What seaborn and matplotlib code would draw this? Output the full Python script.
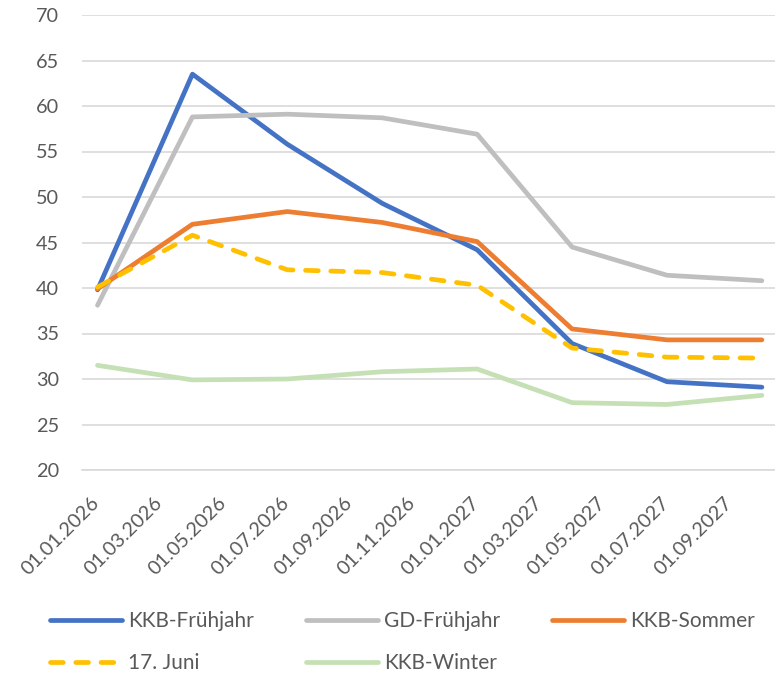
import pandas as pd
import seaborn as sns
import matplotlib.pyplot as plt
from matplotlib.ticker import FixedLocator, MultipleLocator
from matplotlib.transforms import ScaledTranslation

# Quarterly values
dates = ["01.01.2026", "01.04.2026", "01.07.2026", "01.10.2026",
         "01.01.2027", "01.04.2027", "01.07.2027", "01.10.2027"]

kkb_fruehjahr = [39.8, 63.5, 55.8, 49.3, 44.2, 33.9, 29.7, 29.1]
gd_fruehjahr = [38.1, 58.8, 59.1, 58.7, 56.9, 44.5, 41.4, 40.8]
kkb_sommer = [39.9, 47.0, 48.4, 47.2, 45.1, 35.5, 34.3, 34.3]
juni_17 = [40.1, 45.8, 42.0, 41.7, 40.3, 33.4, 32.4, 32.3]
kkb_winter = [31.5, 29.9, 30.0, 30.8, 31.1, 27.4, 27.2, 28.2]

series_names = ["KKB-Frühjahr", "GD-Frühjahr", "KKB-Sommer", "17. Juni", "KKB-Winter"]
series_values = [kkb_fruehjahr, gd_fruehjahr, kkb_sommer, juni_17, kkb_winter]
colors = ["#4472C4", "#BFBFBF", "#ED7D31", "#FFC000", "#C5E0B4"]

tick_labels = ["01.01.2026", "01.03.2026", "01.05.2026", "01.07.2026",
               "01.09.2026", "01.11.2026", "01.01.2027", "01.03.2027",
               "01.05.2027", "01.07.2027", "01.09.2027"]


def month_pos(s):
    """Date string -> month slot centre (Excel style 'between tick marks')."""
    d, m, y = (int(p) for p in s.split("."))
    return (y - 2026) * 12 + (m - 1) + 0.5


sns.set_theme(style="white")
plt.rcParams["font.family"] = ["Lato", "DejaVu Sans"]
text_color = "#595959"
grid_color = "#D9D9D9"

# Long-format table for seaborn
rows = []
for name, vals in zip(series_names, series_values):
    for d, v in zip(dates, vals):
        rows.append({"pos": month_pos(d), "value": v, "series": name})
df = pd.DataFrame(rows)

fig = plt.figure(figsize=(7.75, 6.73), dpi=100)
ax = fig.add_axes([81.7 / 775, 1 - 470 / 673, 696 / 775, 455 / 673])

dashes = {n: "" for n in series_names}
dashes["17. Juni"] = (2.7, 2.65)
sns.lineplot(data=df, x="pos", y="value", hue="series", style="series",
             hue_order=series_names, style_order=series_names,
             palette=dict(zip(series_names, colors)), dashes=dashes,
             linewidth=3.4, ax=ax, legend=True)
for line in ax.get_lines():
    line.set_solid_capstyle("round")
    line.set_dash_capstyle("round")

handles, labels = ax.get_legend_handles_labels()
ax.get_legend().remove()

ax.set_xlim(0, 22)
ax.set_ylim(20, 70)
ax.yaxis.set_major_locator(MultipleLocator(5))
ax.grid(axis="y", color=grid_color, linewidth=1.2)
ax.set_axisbelow(True)
for side in ["top", "right", "left"]:
    ax.spines[side].set_visible(False)
ax.spines["bottom"].set_color(grid_color)
ax.spines["bottom"].set_linewidth(1.2)

# labels centred on month slots, tick marks on the boundaries
ax.xaxis.set_major_locator(FixedLocator([month_pos(t) for t in tick_labels]))
ax.set_xticklabels(tick_labels)
ax.xaxis.set_minor_locator(FixedLocator(list(range(0, 22, 2))))
ax.tick_params(axis="x", which="major", length=0, pad=17.3,
               labelsize=14.3, labelcolor=text_color)
ax.tick_params(axis="x", which="minor", length=5, width=1.2,
               color=grid_color, direction="out")
ax.tick_params(axis="y", length=0, pad=16.3, labelsize=14.3, labelcolor=text_color)
shift = ScaledTranslation(-7 / 100, 0, fig.dpi_scale_trans)
for lbl in ax.get_xticklabels():
    lbl.set_rotation(45)
    lbl.set_rotation_mode("anchor")
    lbl.set_ha("right")
    lbl.set_va("top")
    lbl.set_transform(lbl.get_transform() + shift)
ax.set_xlabel("")
ax.set_ylabel("")

# legend in Excel's row-major order, 3 per row
order = [0, 3, 1, 4, 2]
leg = fig.legend([handles[i] for i in order], [labels[i] for i in order],
                 loc="upper left", bbox_to_anchor=(50 / 775, 1 - 611 / 673),
                 ncol=3, frameon=False, fontsize=15, handlelength=3.45,
                 handletextpad=0.29, columnspacing=2.5, labelspacing=1.06,
                 borderpad=0, borderaxespad=0)
for t in leg.get_texts():
    t.set_color(text_color)

fig.savefig("out.png", dpi=100)
